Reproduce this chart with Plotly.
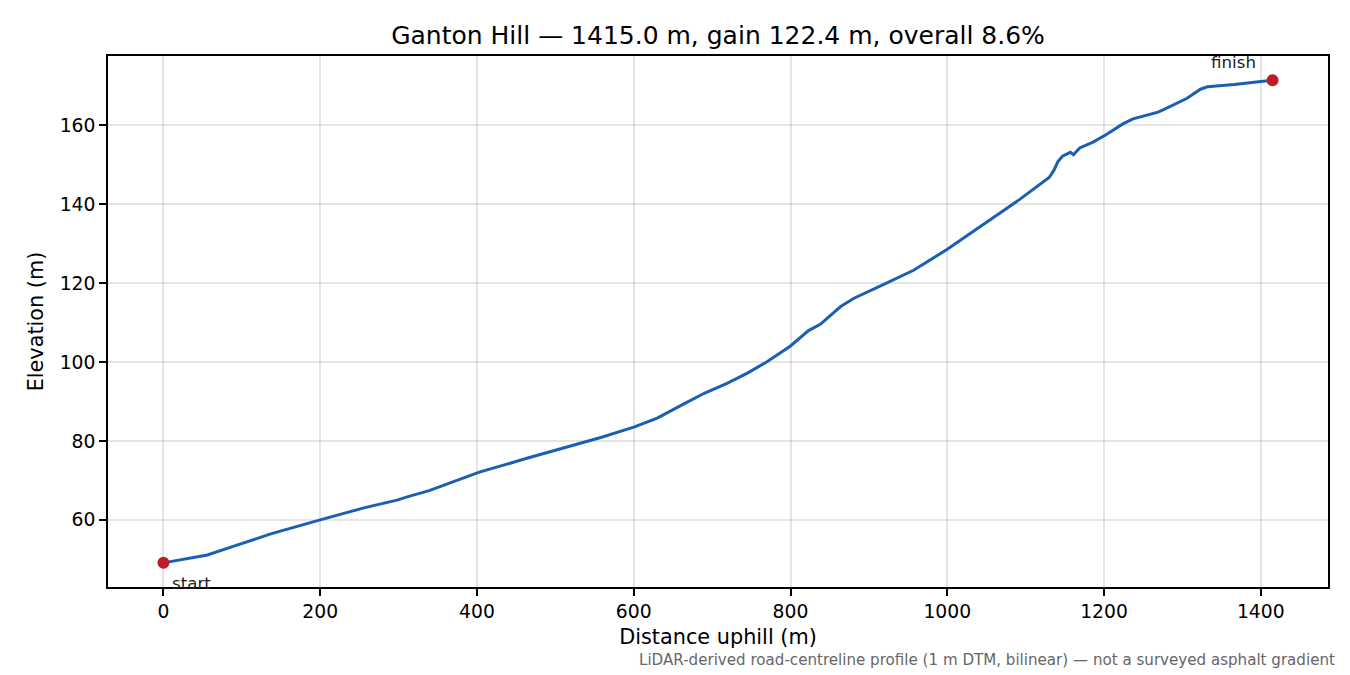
import plotly.graph_objects as go

# profile: distance along the road (m) and elevation (m)
distance = [0, 56, 88, 138, 200, 257, 298, 312, 339, 403, 467, 526, 558, 600,
            630, 664, 690, 719, 745, 770, 800, 823, 838, 864, 881, 919, 957,
            1000, 1025, 1050, 1066, 1092, 1130, 1136, 1141, 1147, 1157, 1161,
            1169, 1186, 1203, 1224, 1237, 1259, 1269, 1280, 1306, 1323, 1332,
            1366, 1415]
elevation = [49.1, 51.1, 53.2, 56.5, 60.0, 63.1, 65.0, 65.9, 67.4, 72.1, 75.8,
             79.0, 80.9, 83.5, 85.8, 89.4, 92.1, 94.6, 97.2, 100.1, 104.1,
             108.0, 109.6, 114.1, 116.2, 119.7, 123.3, 128.6, 132.0, 135.5,
             137.7, 141.2, 146.8, 148.6, 150.8, 152.2, 153.2, 152.6, 154.3,
             155.8, 157.7, 160.4, 161.7, 162.8, 163.4, 164.4, 166.9, 169.2,
             169.8, 170.4, 171.5]

title = "Ganton Hill \u2014 1415.0 m, gain 122.4 m, overall 8.6%"
note = ("LiDAR-derived road-centreline profile (1 m DTM, bilinear) "
        "\u2014 not a surveyed asphalt gradient")

font = "DejaVu Sans"
grid = "rgba(0,0,0,0.1)"

fig = go.Figure()
fig.add_trace(go.Scatter(x=distance, y=elevation, mode="lines",
                         line=dict(color="#1a5fb4", width=3),
                         showlegend=False, hoverinfo="x+y"))
fig.add_trace(go.Scatter(x=[distance[0], distance[-1]],
                         y=[elevation[0], elevation[-1]], mode="markers",
                         marker=dict(color="#c01c28", size=12),
                         showlegend=False))

# start / finish labels
fig.add_annotation(x=distance[0], y=elevation[0], text="start",
                   showarrow=False, xanchor="left", yanchor="middle",
                   xshift=7, yshift=-20, font=dict(size=16.7, color="#222"))
fig.add_annotation(x=distance[-1], y=elevation[-1], text="finish",
                   showarrow=False, xanchor="center", yanchor="middle",
                   xshift=-39, yshift=18, font=dict(size=16.7, color="#222"))
fig.add_annotation(xref="paper", yref="paper", x=1.0074, y=-0.1375,
                   text=note, showarrow=False, xanchor="right",
                   yanchor="middle", font=dict(size=15.1, color="#666"))

fig.update_layout(
    width=1350, height=675,
    margin=dict(l=100, r=30, t=48, b=96),
    paper_bgcolor="white", plot_bgcolor="white",
    font=dict(family=font, size=18.75, color="black"),
    title=dict(text=title, xref="paper", x=0.5, xanchor="center",
               y=1 - 27 / 675, yanchor="middle", font=dict(size=25)),
)
fig.update_xaxes(range=[-70.75, 1485.75], dtick=200, tick0=0,
                 showgrid=True, gridcolor=grid, gridwidth=1.5,
                 showline=True, linecolor="black", linewidth=1.6, mirror=True,
                 ticks="outside", ticklen=7, tickwidth=1.6, tickcolor="black",
                 zeroline=False, tickfont=dict(size=18.75),
                 title=dict(text="Distance uphill (m)", standoff=8,
                            font=dict(size=20.8)))
fig.update_yaxes(range=[42.98, 177.62], dtick=20, tick0=0,
                 showgrid=True, gridcolor=grid, gridwidth=1.5,
                 showline=True, linecolor="black", linewidth=1.6, mirror=True,
                 ticks="outside", ticklen=7, tickwidth=1.6, tickcolor="black",
                 zeroline=False, tickfont=dict(size=18.75),
                 title=dict(text="Elevation (m)", standoff=10,
                            font=dict(size=20.8)))

fig.write_html("out.html")
